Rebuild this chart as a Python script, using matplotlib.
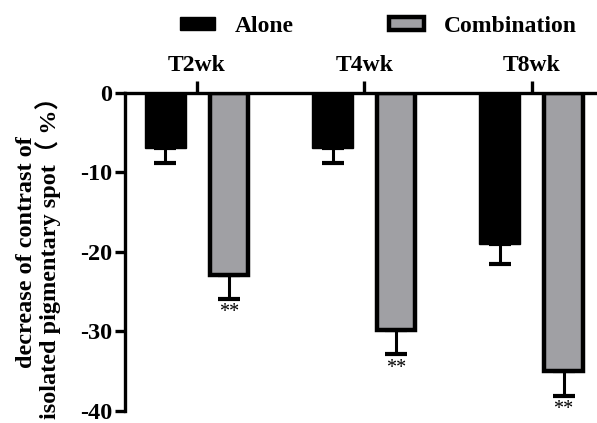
import matplotlib
matplotlib.use("Agg")
import matplotlib.pyplot as plt
import numpy as np

plt.rcParams['font.family'] = ['Liberation Serif', 'Noto Sans CJK SC', 'DejaVu Sans']
plt.rcParams['font.weight'] = 'bold'

groups = ['T2wk', 'T4wk', 'T8wk']
alone = [-6.9, -6.9, -19.0]
alone_err = [1.9, 1.9, 2.5]
combo = [-22.9, -29.8, -35.0]
combo_err = [3.0, 3.1, 3.1]
signif = ['**', '**', '**']

x = np.arange(len(groups))
w = 0.245
off = 0.19

fig = plt.figure(figsize=(5.97, 4.23), dpi=100)
ax = fig.add_axes([0.2094, 0.029, 0.7906, 0.7511])

ax.bar(x - off, alone, w, color='black', edgecolor='black', linewidth=1,
       label='Alone', zorder=2)
ax.errorbar(x - off, alone, yerr=[alone_err, [0] * 3], fmt='none',
            ecolor='black', elinewidth=2.2, capsize=8, capthick=3, zorder=1)
ax.bar(x + off, combo, w * 0.93, color='#a0a0a4', edgecolor='black', linewidth=3.2,
       label='Combination', zorder=2)
ax.errorbar(x + off, combo, yerr=[combo_err, [0] * 3], fmt='none',
            ecolor='black', elinewidth=2.2, capsize=8, capthick=3, zorder=1)

for xi, v, e, s in zip(x, combo, combo_err, signif):
    ax.text(xi + off, v - e - 0.55, s, ha='center', va='top', fontsize=14.5,
            fontweight='normal', clip_on=False)

ax.set_xlim(-0.43, 2.39)
ax.set_ylim(-40, 0)
ax.set_yticks([0, -10, -20, -30, -40])
ax.set_yticklabels(['0', '-10', '-20', '-30', '-40'])
ax.xaxis.tick_top()
ax.set_xticks(x)
ax.set_xticklabels(groups)
ax.tick_params(axis='x', direction='out', length=9, width=2.4, pad=3.5, labelsize=17)
ax.tick_params(axis='y', direction='out', length=7, width=2.4, pad=2, labelsize=17.5)

for side in ['right', 'bottom']:
    ax.spines[side].set_visible(False)
for side in ['left', 'top']:
    ax.spines[side].set_linewidth(2.4)

ax.set_ylabel('decrease of contrast of\nisolated pigmentary spot（ %）', fontsize=17.5,
              fontweight='bold', labelpad=14, linespacing=0.9)

ax.legend(ncol=2, loc='center', bbox_to_anchor=(0.537, 1.21), frameon=False,
          fontsize=17, handlelength=1.48, handleheight=0.5, columnspacing=4.0,
          handletextpad=0.85, borderaxespad=0, borderpad=0)

fig.savefig('out.png', dpi=100)
